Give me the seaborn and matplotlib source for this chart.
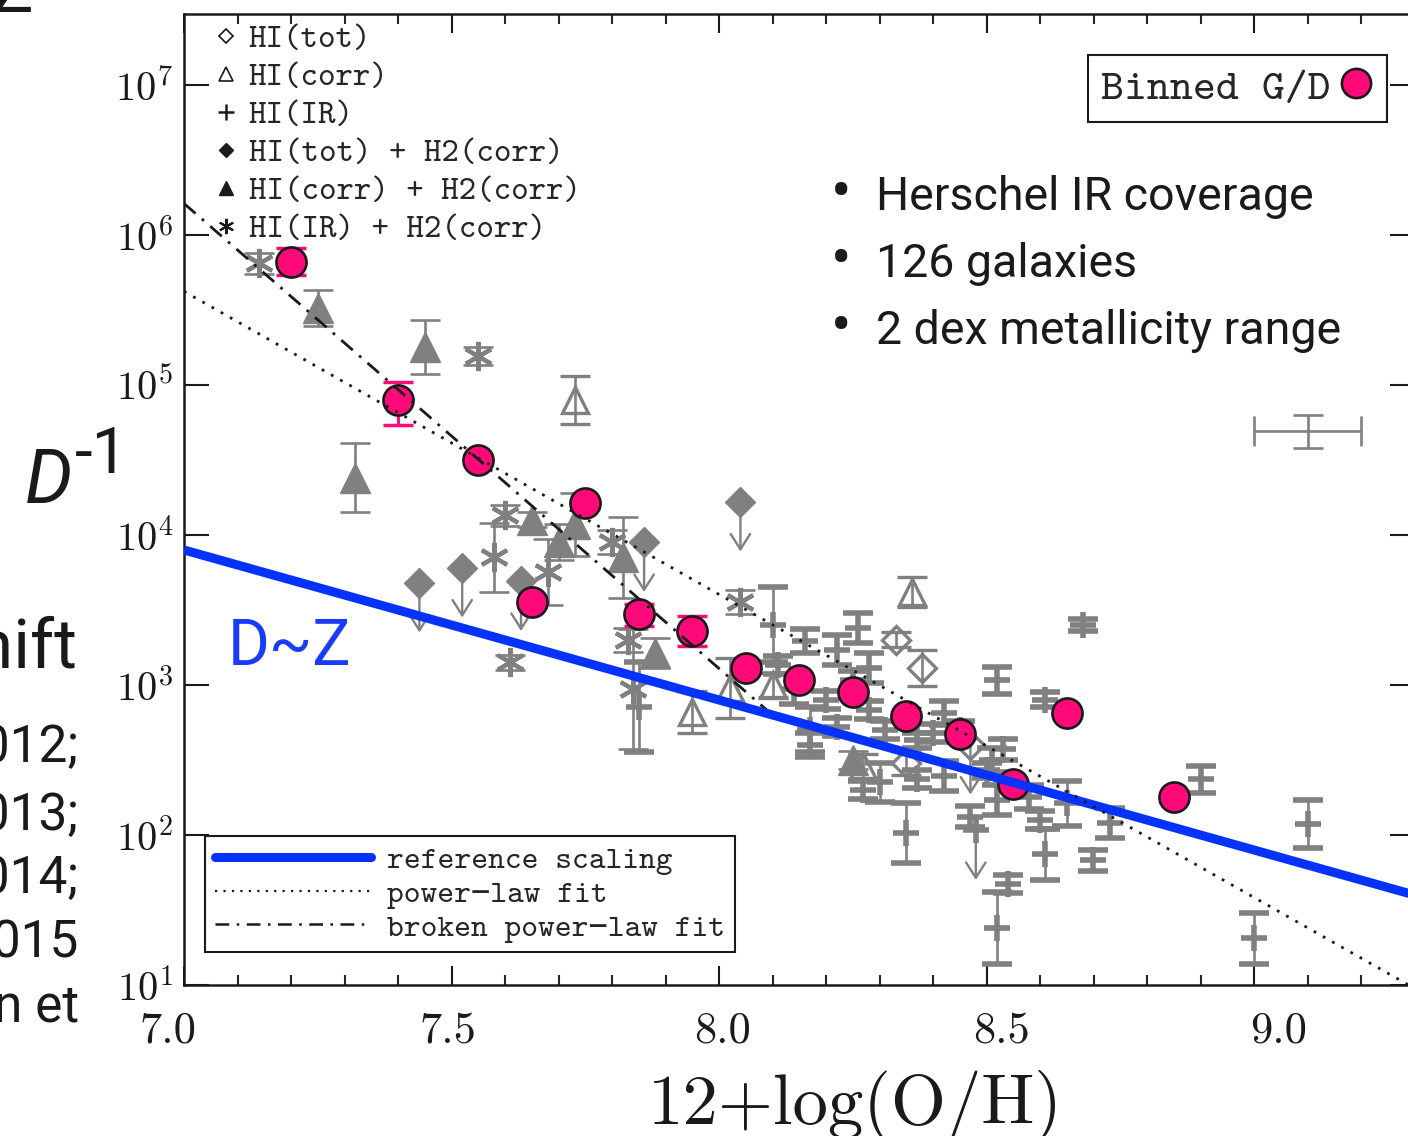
import numpy as np
import matplotlib
matplotlib.use("Agg")
import matplotlib.pyplot as plt
import matplotlib.ticker as mticker
from matplotlib.lines import Line2D
from matplotlib.legend_handler import HandlerTuple
from matplotlib.transforms import ScaledTranslation
import seaborn as sns

# ---------------- data ----------------
# binned gas-to-dust ratios (log10 G/D) versus metallicity
bin_oh = [7.20, 7.40, 7.55, 7.65, 7.75, 7.85, 7.95, 8.05, 8.15, 8.25, 8.35, 8.45, 8.55, 8.65, 8.85]
bin_log_gd = [5.82, 4.90, 4.50, 3.55, 4.21, 3.47, 3.36, 3.11, 3.03, 2.95, 2.79, 2.67, 2.34, 2.81, 2.25]
bin_err_lo = [0.09, 0.17, 0.03, 0.03, 0.03, 0.08, 0.10, 0.02, 0.02, 0.02, 0.02, 0.02, 0.02, 0.02, 0.03]
bin_err_hi = [0.09, 0.12, 0.03, 0.03, 0.03, 0.07, 0.10, 0.02, 0.02, 0.02, 0.02, 0.02, 0.02, 0.02, 0.03]

# HI(IR) + H2(corr): asterisks
ast_oh = [7.14, 7.55, 7.60, 7.58, 7.68, 7.61, 7.80, 7.83, 7.84, 8.04]
ast_log_gd = [5.81, 5.19, 4.13, 3.85, 3.75, 3.15, 3.95, 3.30, 2.97, 3.55]
ast_err = [0.07, 0.06, 0.07, 0.23, 0.22, 0.05, 0.08, 0.08, 0.40, 0.08]

# HI(corr) + H2(corr): filled triangles
ftri_oh = [7.25, 7.45, 7.32, 7.65, 7.70, 7.73, 7.82, 7.88, 8.25]
ftri_log_gd = [5.51, 5.25, 4.38, 4.10, 3.95, 4.07, 3.85, 3.21, 2.50]
ftri_err = [0.12, 0.18, 0.23, 0.05, 0.12, 0.21, 0.27, 0.10, 0.06]

# HI(corr): open triangles
otri_oh = [7.73, 8.36, 7.95, 8.02, 8.10, 8.27]
otri_log_gd = [4.90, 3.62, 2.82, 2.98, 3.00, 2.46]
otri_err = [0.16, 0.10, 0.14, 0.20, 0.08, 0.08]

# HI(tot): open diamonds (last one an upper limit)
odia_oh = [8.33, 8.38, 8.35]
odia_log_gd = [3.30, 3.11, 2.48]
odia_err = [0.05, 0.12, 0.08]
odia_lim_oh = [8.47]
odia_lim_log_gd = [2.60]

# HI(tot) + H2(corr): filled diamonds, upper limits
fdia_oh = [8.04, 7.86, 7.44, 7.52, 7.63, 7.70]
fdia_log_gd = [4.22, 3.95, 3.68, 3.78, 3.69, 1.55]

# HI(IR): plus signs
plus_oh = [8.68, 8.52, 8.61, 8.90, 9.10, 9.00, 8.70, 8.61, 8.52, 8.54, 8.73, 8.65, 8.60,
           8.35, 8.47, 8.52, 8.42, 8.42, 8.51, 8.53, 8.58, 8.10, 8.16, 8.26, 8.22, 8.28,
           8.20, 8.17, 8.22, 8.28, 8.31, 8.30, 8.40, 8.45, 8.25, 8.14, 7.85, 8.11, 8.27,
           8.17, 8.37, 8.37, 8.50]
plus_log_gd = [3.40, 3.03, 2.90, 2.37, 2.07, 1.31, 1.83, 1.87, 1.38, 1.67, 2.08, 2.21, 2.10,
               2.01, 2.12, 2.23, 2.39, 2.81, 2.50, 2.57, 2.25, 3.40, 3.29, 3.38, 3.23, 3.11,
               2.90, 2.70, 2.72, 2.83, 2.70, 2.35, 2.68, 2.70, 3.03, 2.97, 2.85, 3.13, 2.30,
               2.60, 2.37, 2.63, 2.43]
plus_err = [0.04, 0.09, 0.05, 0.09, 0.16, 0.17, 0.07, 0.17, 0.24, 0.06, 0.10, 0.15, 0.06,
            0.20, 0.07, 0.10, 0.10, 0.08, 0.08, 0.07, 0.08, 0.25, 0.08, 0.10, 0.10, 0.10,
            0.06, 0.15, 0.06, 0.06, 0.06, 0.13, 0.06, 0.06, 0.06, 0.10, 0.30, 0.06, 0.06,
            0.08, 0.06, 0.05, 0.05]
plus_lim_oh = [8.48]
plus_lim_log_gd = [2.03]

# typical uncertainty bar
typ_oh, typ_log_gd, typ_xerr, typ_yerr = 9.10, 4.69, 0.10, 0.11

# scaling relations: log G/D = a + slope * (solar - 12+log(O/H))
solar_oh = 8.69
log_gd_solar = 2.21
pl_slope = 2.02
bpl_slope_high, bpl_slope_low, bpl_break = 1.00, 3.10, 8.10

x_ticks = [7.0, 7.5, 8.0, 8.5, 9.0]
x_tick_labels = ["7.0", "7.5", "8.0", "8.5", "9.0"]
y_tick_exps = [1, 2, 3, 4, 5, 6, 7]

# ---------------- style ----------------
sns.set_theme(style="ticks")
plt.rcParams["font.family"] = ["cmtt10", "DejaVu Sans"]
plt.rcParams["mathtext.fontset"] = "cm"
plt.rcParams["axes.unicode_minus"] = False

GRAY = "#808080"
PINK = "#ff0a78"
BLUE = "#0532ff"
SANS = ["Roboto", "Liberation Sans", "DejaVu Sans"]
TT = ["cmtt10", "DejaVu Sans Mono"]

W, H = 1408, 1136
fig = plt.figure(figsize=(W / 100, H / 100), dpi=100)
ax = fig.add_axes([184 / W, 1 - 985 / H, 1230.5 / W, 971 / H])
ax.set_yscale("log")
ax.set_xlim(7.0, 9.3)
ax.set_ylim(10, 10 ** 7.473)


def log_err(vals, errs):
    y = 10 ** np.asarray(vals)
    e = np.asarray(errs)
    return y, [y - y * 10 ** -e, y * 10 ** e - y]


eb_kw = dict(ls="none", ecolor=GRAY, elinewidth=1.9, capsize=11, capthick=1.9, zorder=2)

y, ye = log_err(plus_log_gd, plus_err)
ax.errorbar(plus_oh, y, yerr=ye, fmt="+", ms=19, mec=GRAY, mew=4.0, **eb_kw)

y, ye = log_err(ast_log_gd, ast_err)
ax.errorbar(ast_oh, y, yerr=ye, fmt="none", **eb_kw)
ax.plot(ast_oh, y, ls="none", marker=(6, 2, 0), ms=21, mec=GRAY, mew=3.0, zorder=2)

y, ye = log_err(ftri_log_gd, ftri_err)
ax.errorbar(ftri_oh, y, yerr=ye, fmt="^", ms=21, mfc=GRAY, mec=GRAY, **eb_kw)

y, ye = log_err(otri_log_gd, otri_err)
ax.errorbar(otri_oh, y, yerr=ye, fmt="^", ms=19, mfc="none", mec=GRAY, mew=2.4, **eb_kw)

y, ye = log_err(odia_log_gd, odia_err)
ax.errorbar(odia_oh, y, yerr=ye, fmt="D", ms=14, mfc="none", mec=GRAY, mew=2.4, **eb_kw)
ax.plot(odia_lim_oh, 10 ** np.array(odia_lim_log_gd), ls="none", marker="D", ms=14,
        mfc="none", mec=GRAY, mew=2.4, zorder=2)

ax.plot(fdia_oh, 10 ** np.array(fdia_log_gd), ls="none", marker="D", ms=15,
        mfc=GRAY, mec=GRAY, zorder=2)
ax.plot(plus_lim_oh, 10 ** np.array(plus_lim_log_gd), ls="none", marker="+", ms=19,
        mec=GRAY, mew=4.0, zorder=2)

# upper-limit arrows
for xs, ls in [(fdia_oh, fdia_log_gd), (odia_lim_oh, odia_lim_log_gd), (plus_lim_oh, plus_lim_log_gd)]:
    for xv, lv in zip(xs, ls):
        ax.annotate("", xy=(xv, 10 ** (lv - 0.33)), xytext=(xv, 10 ** lv),
                    arrowprops=dict(arrowstyle="->,head_length=0.55,head_width=0.35",
                                    color=GRAY, lw=1.7, mutation_scale=20,
                                    shrinkA=0, shrinkB=0), zorder=2)

# typical uncertainty
ax.errorbar([typ_oh], [10 ** typ_log_gd], xerr=[typ_xerr],
            yerr=[[10 ** typ_log_gd - 10 ** (typ_log_gd - typ_yerr)],
                  [10 ** (typ_log_gd + typ_yerr) - 10 ** typ_log_gd]],
            fmt="none", **eb_kw)

# binned points
yb = 10 ** np.array(bin_log_gd)
ax.errorbar(bin_oh, yb, yerr=[yb - yb * 10 ** -np.array(bin_err_lo), yb * 10 ** np.array(bin_err_hi) - yb],
            fmt="none", ecolor=PINK, elinewidth=2.2, capsize=11, capthick=2.5, zorder=3)
sns.scatterplot(x=bin_oh, y=yb, ax=ax, s=470, color=PINK, edgecolor="k", linewidth=1.9,
                zorder=4, legend=False)

# scaling relations
xx = np.linspace(7.0, 9.3, 400)
ref_line = 10 ** (log_gd_solar + (solar_oh - xx))
pl_line = 10 ** (log_gd_solar + pl_slope * (solar_oh - xx))
bpl_log = np.where(xx > bpl_break,
                   log_gd_solar + bpl_slope_high * (solar_oh - xx),
                   log_gd_solar + bpl_slope_high * (solar_oh - bpl_break)
                   + bpl_slope_low * (bpl_break - xx))
bpl_line = 10 ** bpl_log
ax.plot(xx, bpl_line, color="k", lw=2.0, ls=(0, (5.5, 3, 1, 3)), zorder=5)
ax.plot(xx, ref_line, color="k", lw=2.0, ls=(0, (5, 3)), zorder=5.5)
ax.plot(xx, ref_line, color=BLUE, lw=6.5, zorder=6, solid_capstyle="butt")
ax.plot(xx, pl_line, color="k", lw=2.0, ls=(0, (1, 2.8)), zorder=7)

# ---------------- axes ----------------
for sp in ax.spines.values():
    sp.set_linewidth(1.8)
    sp.set_color("k")
ax.set_xticks(x_ticks)
ax.set_xticklabels(x_tick_labels)
ax.xaxis.set_minor_locator(mticker.MultipleLocator(0.1))
ax.set_yticks([10.0 ** e for e in y_tick_exps])
ax.yaxis.set_major_formatter(mticker.FuncFormatter(lambda v, p: r"$10^{%d}$" % round(np.log10(v))))
ax.yaxis.set_minor_locator(mticker.NullLocator())
ax.tick_params(axis="x", which="major", direction="in", length=14, width=1.5, top=True,
               bottom=True, labelsize=32, pad=19, labelfontfamily="cmr10", colors="k")
ax.tick_params(axis="x", which="minor", direction="in", length=7, width=1.5, top=True, bottom=True)
ax.tick_params(axis="y", which="major", direction="in", length=18, width=1.5, left=True,
               right=True, labelsize=29, pad=8, colors="k")
offsets_px = [-16, -4, 4, 15, 25]
for tick, dx in zip(ax.xaxis.get_major_ticks(), offsets_px):
    tick.label1.set_transform(tick.label1.get_transform()
                              + ScaledTranslation(dx / 100, 0, fig.dpi_scale_trans))
ax.grid(False)

ax.set_xlabel("12+log(O/H)", fontfamily="cmr10", fontsize=51, color="k")
ax.xaxis.label.set_va("baseline")
ax.xaxis.set_label_coords((855 - 184) / 1230.5, (985 - 1124) / 971)

# ---------------- legends ----------------
sym_handles = [
    Line2D([], [], ls="none", marker="D", ms=7.5, mfc="none", mec="k", mew=1.2),
    Line2D([], [], ls="none", marker="^", ms=10, mfc="none", mec="k", mew=1.2),
    Line2D([], [], ls="none", marker="+", ms=11, mec="k", mew=1.8),
    Line2D([], [], ls="none", marker="D", ms=7.5, mfc="k", mec="k"),
    Line2D([], [], ls="none", marker="^", ms=10, mfc="k", mec="k"),
    Line2D([], [], ls="none", marker=(6, 2, 0), ms=11, mec="k", mew=1.5),
]
sym_labels = ["HI(tot)", "HI(corr)", "HI(IR)", "HI(tot) + H2(corr)",
              "HI(corr) + H2(corr)", "HI(IR) + H2(corr)"]
leg1 = ax.legend(sym_handles, sym_labels, loc="upper left",
                 bbox_to_anchor=((212 - 184) / 1230.5, (985 - 24) / 971),
                 frameon=False, prop={"family": TT, "size": 24},
                 handlelength=0.82, handletextpad=0.28, labelspacing=0.2,
                 borderpad=0, borderaxespad=0)
ax.add_artist(leg1)

fit_handles = [
    (Line2D([], [], color="k", lw=2, ls=(0, (5, 3))), Line2D([], [], color=BLUE, lw=6.5)),
    Line2D([], [], color="k", lw=1.6, ls=(0, (1, 2.8))),
    Line2D([], [], color="k", lw=1.8, ls=(0, (5.5, 3, 1, 3))),
]
fit_labels = ["reference scaling", "power\u2212law fit", "broken power\u2212law fit"]
leg2 = ax.legend(fit_handles, fit_labels, loc="upper left",
                 bbox_to_anchor=((205 - 184) / 1230.5, (985 - 836) / 971),
                 handler_map={tuple: HandlerTuple(ndivide=1, pad=0)},
                 prop={"family": TT, "size": 23},
                 handlelength=4.9, handletextpad=0.5, labelspacing=0.14,
                 borderpad=0.3, borderaxespad=0, fancybox=False, framealpha=1,
                 edgecolor="k")
leg2.get_frame().set_linewidth(1.5)
ax.add_artist(leg2)

bin_handle = Line2D([], [], ls="none", marker="o", ms=21, mfc=PINK, mec="k", mew=1.9)
leg3 = ax.legend([bin_handle], ["Binned G/D"], loc="upper right",
                 bbox_to_anchor=((1387 - 184) / 1230.5, (985 - 55) / 971),
                 markerfirst=False, prop={"family": TT, "size": 31.5},
                 handlelength=0.8, handletextpad=0.2, borderpad=0.3, borderaxespad=0,
                 fancybox=False, framealpha=1, edgecolor="k")
leg3.get_frame().set_linewidth(1.5)

# ---------------- slide text ----------------
def fx(px):
    return px / W


def fy(py):
    return 1 - py / H


bullets = ["Herschel IR coverage", "126 galaxies", "2 dex metallicity range"]
for i, txt in enumerate(bullets):
    base = 210 + 67 * i
    fig.text(fx(841), fy(base - 16), "\u2022", ha="center", va="center",
             fontsize=44, family=SANS, color="k")
    fig.text(fx(876), fy(base), txt, ha="left", va="baseline", fontsize=33.5,
             family=SANS, color="k")

fig.text(fx(228), fy(665), "D~Z", ha="left", va="baseline", fontsize=46,
         family=SANS, color="#1a3cf8")

fig.text(fx(25), fy(503), "D", ha="left", va="baseline", fontsize=54,
         family=SANS, style="italic", color="k")
fig.text(fx(75), fy(473), "-1", ha="left", va="baseline", fontsize=46,
         family=SANS, color="k")

fig.text(fx(33), fy(12), "Z", ha="right", va="baseline", fontsize=50,
         family=SANS, color="k")
fig.text(fx(78), fy(668), "shift", ha="right", va="baseline", fontsize=50,
         family=SANS, color="k")
refs = [("2012;", 762), ("2013;", 830), ("2014;", 893), ("2015", 958), ("n et", 1022)]
for txt, base in refs:
    fig.text(fx(79), fy(base), txt, ha="right", va="baseline", fontsize=37,
             family=SANS, color="k")

fig.savefig("out.png", dpi=100)
